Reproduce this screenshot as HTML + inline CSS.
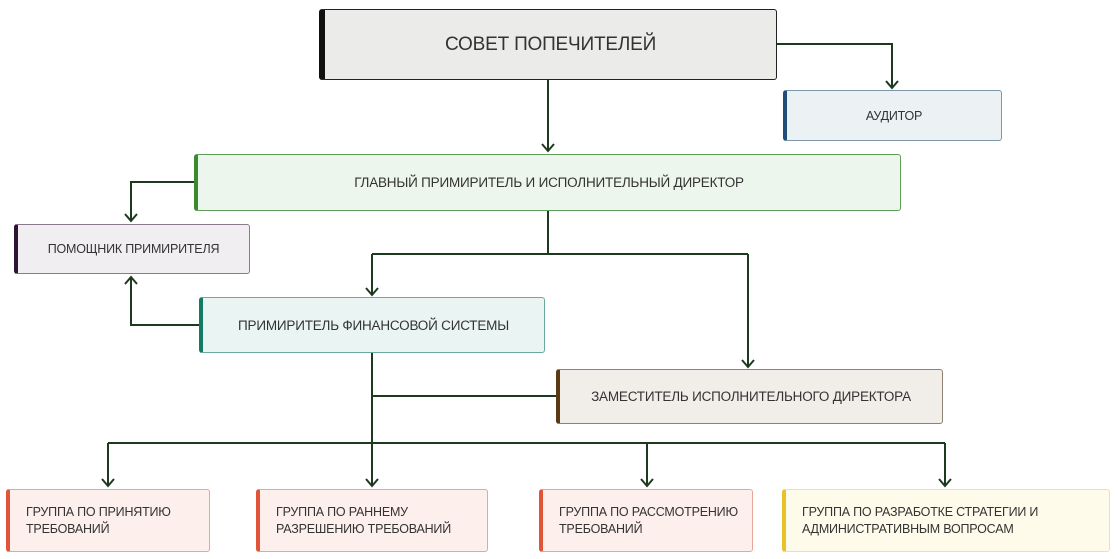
<!DOCTYPE html>
<html><head><meta charset="utf-8"><style>
body{margin:0;width:1118px;height:559px;background:#fff;position:relative;overflow:hidden;font-family:"Liberation Sans","DejaVu Sans",sans-serif;color:#333}
.b{position:absolute;box-sizing:border-box;border:1px solid;border-radius:3px;display:flex;align-items:center;font-size:12.5px;letter-spacing:-0.2px}
.c{justify-content:center;text-align:center}
.l{padding-left:16px;line-height:17px}
svg{position:absolute;left:0;top:0}
</style></head><body>
<svg width="1118" height="559" fill="none" stroke="#1e3a1e" stroke-width="2">
<path d="M548 80V151M777 44H892V88M194 182H131V221M548 211V254M372 254H748M372 254V295M748 254V367M199 325H131V277M372 353V486M372 396H556M108 443H945M108 443V486M647 443V486M945 443V486"/>
<g stroke-width="2"><path d="M542 144l6 7 6-7M886 81l6 7 6-7M125 214l6 7 6-7M366 288l6 7 6-7M742 360l6 7 6-7M125 284l6-7 6 7M102 479l6 7 6-7M366 479l6 7 6-7M641 479l6 7 6-7M939 479l6 7 6-7"/></g>
</svg>
<div class="b c" style="left:319px;top:9px;width:458px;height:71px;background:#ebebea;border-color:#222;border-left:6px solid #111;font-size:19px">СОВЕТ ПОПЕЧИТЕЛЕЙ</div>
<div class="b c" style="left:783px;top:90px;width:219px;height:51px;background:#ecf1f4;border-color:#7d98ad;border-left:4px solid #1f4e79">АУДИТОР</div>
<div class="b c" style="left:194px;top:154px;width:707px;height:57px;background:#edf6ec;border-color:#5e9e5a;border-left:4px solid #3b8a2f;font-size:13.5px">ГЛАВНЫЙ ПРИМИРИТЕЛЬ И ИСПОЛНИТЕЛЬНЫЙ ДИРЕКТОР</div>
<div class="b c" style="left:14px;top:224px;width:236px;height:50px;background:#f1eef2;border-color:#8a7a8e;border-left:4px solid #2e1535">ПОМОЩНИК ПРИМИРИТЕЛЯ</div>
<div class="b c" style="left:199px;top:297px;width:346px;height:56px;background:#eaf4f3;border-color:#6aa8a0;border-left:4px solid #137a64;font-size:13.5px">ПРИМИРИТЕЛЬ ФИНАНСОВОЙ СИСТЕМЫ</div>
<div class="b c" style="left:556px;top:369px;width:387px;height:55px;background:#f1eeea;border-color:#8f8172;border-left:4px solid #5a3a12;font-size:13.5px">ЗАМЕСТИТЕЛЬ ИСПОЛНИТЕЛЬНОГО ДИРЕКТОРА</div>
<div class="b l" style="left:6px;top:489px;width:204px;height:63px;background:#fdefec;border-color:#e8a696;border-left:4px solid #e0553a">ГРУППА ПО ПРИНЯТИЮ<br>ТРЕБОВАНИЙ</div>
<div class="b l" style="left:256px;top:489px;width:232px;height:63px;background:#fdefec;border-color:#e8a696;border-left:4px solid #e0553a">ГРУППА ПО РАННЕМУ<br>РАЗРЕШЕНИЮ ТРЕБОВАНИЙ</div>
<div class="b l" style="left:539px;top:489px;width:214px;height:63px;background:#fdefec;border-color:#e8a696;border-left:4px solid #e0553a">ГРУППА ПО РАССМОТРЕНИЮ<br>ТРЕБОВАНИЙ</div>
<div class="b l" style="left:782px;top:489px;width:328px;height:63px;background:#fefbea;border-color:#ece3a4;border-left:4px solid #e8c22a">ГРУППА ПО РАЗРАБОТКЕ СТРАТЕГИИ И<br>АДМИНИСТРАТИВНЫМ ВОПРОСАМ</div>
</body></html>
